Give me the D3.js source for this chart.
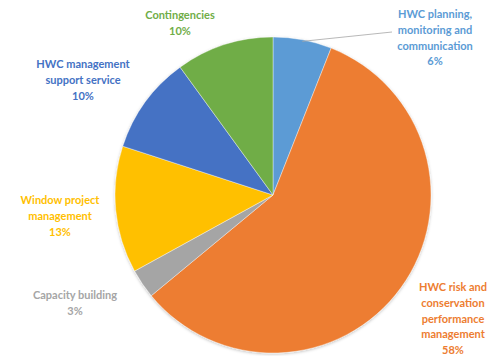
<!DOCTYPE html>
<html>
<head>
<meta charset="utf-8">
<script src="https://cdn.jsdelivr.net/npm/d3@7"></script>
<style>
  html, body { margin: 0; padding: 0; background: #fff; }
  svg { display: block; }
  text { font-family: Lato, "Open Sans", sans-serif; font-weight: bold; font-size: 11px; }
</style>
</head>
<body>
<svg id="chart" width="502" height="356"></svg>
<script>
// Budget shares, clockwise from 12 o'clock
const categories = [
  "HWC planning, monitoring and communication",
  "HWC risk and conservation performance management",
  "Capacity building",
  "Window project management",
  "HWC management support service",
  "Contingencies"
];
const shares = [6, 58, 3, 13, 10, 10];
const colors = ["#5B9BD5", "#ED7D31", "#A5A5A5", "#FFC000", "#4472C4", "#70AD47"];
// Label text lines for each slice (percent line added from the data)
const labelLines = [
  ["HWC planning,", "monitoring and", "communication"],
  ["HWC risk and", "conservation", "performance", "management"],
  ["Capacity building"],
  ["Window project", "management"],
  ["HWC management", "support service"],
  ["Contingencies"]
];
// Anchor of each label block (centre x, first baseline y)
const labelPos = [[435, 18], [453, 291], [75, 299], [60, 204], [83, 68], [180, 19]];

const svg = d3.select("#chart");
const cx = 273, cy = 195, r = 158;

const data = categories.map((c, i) => ({ name: c, value: shares[i], color: colors[i], lines: labelLines[i], pos: labelPos[i] }));

const pie = d3.pie().value(d => d.value).sort(null);
const arc = d3.arc().innerRadius(0).outerRadius(r);
const arcs = pie(data);

const defs = svg.append("defs");
const f = defs.append("filter").attr("id", "shadow").attr("x", "-10%").attr("y", "-10%").attr("width", "120%").attr("height", "120%");
f.append("feDropShadow").attr("dx", 0).attr("dy", 1).attr("stdDeviation", 1.5).attr("flood-color", "#000").attr("flood-opacity", 0.25);

const g = svg.append("g").attr("transform", `translate(${cx},${cy})`);
g.append("g").attr("filter", "url(#shadow)")
  .selectAll("path").data(arcs).join("path")
  .attr("d", arc)
  .attr("fill", d => d.data.color)
  .attr("stroke", "#fff").attr("stroke-width", 0.4);

// leader line for the small top slice
const a0 = arcs[0];
const mid = (a0.startAngle + a0.endAngle) / 2;
const edge = [cx + Math.sin(mid) * r * 0.99, cy - Math.cos(mid) * r * 0.99];
svg.append("polyline")
  .attr("points", `${edge[0]},${edge[1]} 392,32`)
  .attr("fill", "none").attr("stroke", "#A6A6A6").attr("stroke-width", 0.8);

const lh = 15.8;
const labels = svg.append("g").selectAll("text").data(data).join("text")
  .attr("text-anchor", "middle")
  .attr("fill", d => d.color);
labels.each(function(d) {
  const t = d3.select(this);
  const lines = d.lines.concat([d3.format("d")(d.value) + "%"]);
  lines.forEach((s, k) => {
    t.append("tspan").attr("x", d.pos[0]).attr("y", d.pos[1] + k * lh).text(s);
  });
});
</script>
</body>
</html>
